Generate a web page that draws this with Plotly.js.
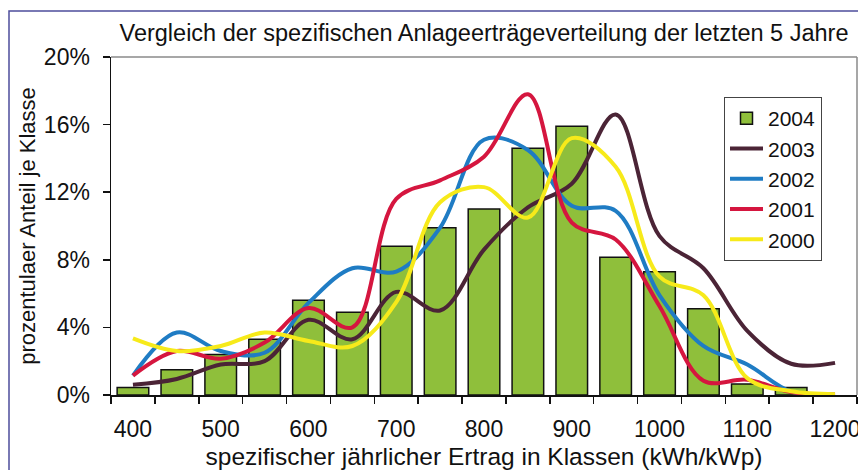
<!DOCTYPE html>
<html><head><meta charset="utf-8">
<script src="https://cdn.plot.ly/plotly-3.0.1.min.js"></script>
<style>html,body{margin:0;padding:0;background:#fff}#chart{width:858px;height:470px}</style>
</head><body><div id="chart"></div>
<script>
const categories = [400,450,500,550,600,650,700,750,800,850,900,950,1000,1050,1100,1150,1200];
const tickLabels = [400,500,600,700,800,900,1000,1100,1200];
const yTicks = [0,4,8,12,16,20];
const y2004 = [0.45,1.5,2.4,3.3,5.6,4.9,8.8,9.9,11.0,14.6,15.9,8.15,7.3,5.1,0.65,0.45,null];
const y2003 = [0.6,0.95,1.8,2.0,4.45,3.3,6.1,5.0,8.6,11.1,12.5,16.6,9.4,7.5,3.8,1.85,1.9];
const y2002 = [1.15,3.7,2.6,2.5,5.45,7.5,7.3,9.9,15.1,14.5,11.2,10.9,5.9,2.9,1.8,0.2,0.03];
const y2001 = [1.15,2.6,2.15,3.1,5.15,4.0,11.6,12.7,14.1,17.8,10.2,9.2,5.25,0.85,0.9,0.17,0.03];
const y2000 = [3.35,2.6,2.9,3.7,3.2,2.9,5.5,11.4,12.3,10.5,15.2,13.5,7.0,5.9,1.0,0.22,0.05];

const FONT = 'Liberation Sans, Arial, sans-serif';
const boundaries = categories.map(c => c - 25).concat([categories[categories.length-1] + 25]);

function lineTrace(name, y, color) {
  return {type:'scatter', mode:'lines', name:name, x:categories, y:y,
    line:{color:color, width:4, shape:'spline', smoothing:1}, legendgroup:name};
}
const traces = [
  {type:'bar', name:'2004', x:categories, y:y2004, width:36, legendgroup:'2004',
   marker:{color:'#8fbf3b', line:{color:'#111', width:1.5}}},
  lineTrace('2003', y2003, '#4b2436'),
  lineTrace('2002', y2002, '#1f7cc4'),
  lineTrace('2001', y2001, '#d5163f'),
  lineTrace('2000', y2000, '#f7ea1a')
];

const L=111, R=857, T=57, B=395, W=858, H=470;
const layout = {
  width:W, height:H,
  margin:{l:L, r:W-R, t:T, b:H-B, pad:0},
  paper_bgcolor:'#fff', plot_bgcolor:'#fff',
  font:{family:FONT, color:'#111', size:21},
  showlegend:true,
  title:{text:'Vergleich der spezifischen Anlageerträgeverteilung der letzten 5 Jahre',
    font:{family:FONT, size:23.5, color:'#111'}, x:0.5, xref:'paper', xanchor:'center',
    y:1-33/H, yref:'container', yanchor:'middle'},
  xaxis:{range:[375,1225], tickmode:'array', tickvals:tickLabels, ticktext:tickLabels.map(String),
    ticks:'', showgrid:false, zeroline:false, showline:true, linecolor:'#111', linewidth:1.5,
    tickfont:{family:FONT, size:23, color:'#111'}, ticklabelstandoff:13, ticklabeloverflow:'allow',
    minor:{tickmode:'array', tickvals:boundaries, ticks:'outside', ticklen:7, tickwidth:1.5, tickcolor:'#111', showgrid:false},
    title:{text:'spezifischer jährlicher Ertrag in Klassen (kWh/kWp)', font:{family:FONT, size:24.5, color:'#111'}, standoff:10},
    automargin:false, fixedrange:true},
  yaxis:{range:[0,20], tickmode:'array', tickvals:yTicks, ticktext:yTicks.map(v => v + '%'),
    ticks:'outside', ticklen:7, tickwidth:1.5, tickcolor:'#111',
    showgrid:false, zeroline:false, showline:true, linecolor:'#111', linewidth:1.5,
    tickfont:{family:FONT, size:23, color:'#111'}, ticklabelstandoff:8,
    title:{text:'prozentulaer Anteil je Klasse', font:{family:FONT, size:22, color:'#111'}, standoff:2},
    automargin:false, fixedrange:true},
  legend:{x:(724-L)/(R-L), y:(B-97)/(B-T), xanchor:'left', yanchor:'top',
    bgcolor:'#fff', bordercolor:'#444', borderwidth:1,
    font:{family:FONT, size:21, color:'#111'}, itemwidth:33, traceorder:'normal', tracegroupgap:0},
  bargap:0.28,
  shapes:[
    {type:'line', xref:'paper', yref:'paper', x0:0, x1:1, y0:1, y1:1, line:{color:'#8a8a8a', width:1.5}},
    {type:'line', xref:'paper', yref:'paper', x0:1, x1:1, y0:0, y1:1, line:{color:'#8a8a8a', width:1.5}},
    {type:'rect', xref:'paper', yref:'paper', x0:(9-L)/(R-L), x1:(900-L)/(R-L), y0:(B-520)/(B-T), y1:(B-11)/(B-T),
     line:{color:'#4d4d9c', width:1.5}, fillcolor:'rgba(0,0,0,0)', layer:'below'}
  ]
};
Plotly.newPlot('chart', traces, layout, {displayModeBar:false, staticPlot:true});
</script>
</body></html>
